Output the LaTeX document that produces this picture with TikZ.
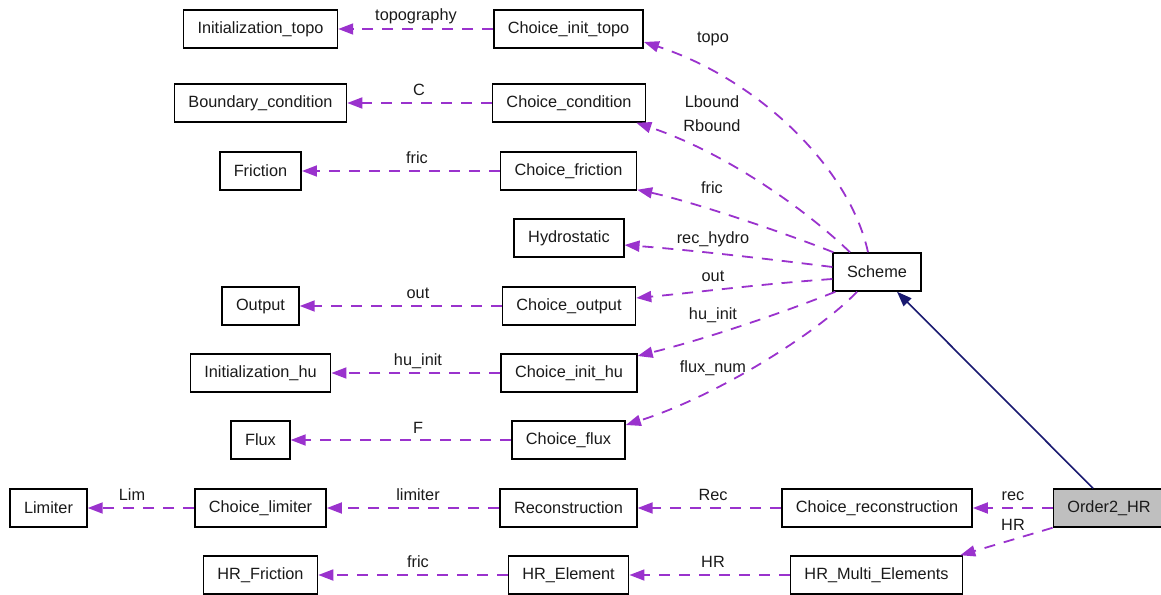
\documentclass[tikz,border=0pt]{standalone}
\usepackage{fontspec}
\setmainfont{Liberation Sans}
\usetikzlibrary{arrows.meta}
\definecolor{usecol}{HTML}{9A32CD}
\definecolor{inhcol}{HTML}{191970}
\definecolor{boxgray}{HTML}{BFBFBF}
\definecolor{txt}{HTML}{1A1A1A}
\tikzset{
  cls/.style={draw=black, line width=1.5pt, fill=white, text=txt, minimum height=38pt, inner xsep=14pt, inner ysep=0pt,
    font=\fontsize{16.3}{19}\selectfont},
  clsmain/.style={cls, fill=boxgray},
  lbl/.style={inner sep=0pt, anchor=base, text=txt, font=\fontsize{16.3}{19}\selectfont},
  use/.style={draw=usecol, line width=1.8pt, dash pattern=on 11pt off 9pt,
    -{Triangle[length=15pt,width=11pt,fill=usecol]}},
  inh/.style={draw=inhcol, line width=1.6pt, -{Triangle[length=15pt,width=11pt,fill=inhcol]}},
}
\begin{document}
\begin{tikzpicture}[x=1pt,y=-1pt]
\useasboundingbox (0,0) rectangle (1161,594);
% nodes
\node[cls] (inittopo) at (260.5,29) {Initialization\_topo};
\node[cls] (cinittopo) at (568.5,29) {Choice\_init\_topo};
\node[cls] (boundary) at (260.5,103) {Boundary\_condition};
\node[cls] (ccond) at (569,103) {Choice\_condition};
\node[cls] (friction) at (260.5,171) {Friction};
\node[cls] (cfric) at (568.5,171) {Choice\_friction};
\node[cls] (hydro) at (569,238) {Hydrostatic};
\node[cls] (scheme) at (877,272) {Scheme};
\node[cls] (output) at (260.5,306) {Output};
\node[cls] (coutput) at (569,306) {Choice\_output};
\node[cls] (inithu) at (260.5,373) {Initialization\_hu};
\node[cls] (cinithu) at (569,373) {Choice\_init\_hu};
\node[cls] (flux) at (260.5,440) {Flux};
\node[cls] (cflux) at (568.5,440) {Choice\_flux};
\node[cls] (limiter) at (48.5,508) {Limiter};
\node[cls] (climiter) at (260.5,508) {Choice\_limiter};
\node[cls] (recon) at (568.5,508) {Reconstruction};
\node[cls] (crecon) at (877,508) {Choice\_reconstruction};
\node[clsmain] (order2) at (1109,508) {Order2\_HR};
\node[cls] (hrfric) at (260.5,575) {HR\_Friction};
\node[cls] (hrelem) at (568.5,575) {HR\_Element};
\node[cls] (hrmulti) at (876.5,575) {HR\_Multi\_Elements};

% straight usage edges
\draw[use] (cinittopo) -- (inittopo);
\draw[use] (ccond) -- (boundary);
\draw[use] (cfric) -- (friction);
\draw[use] (coutput) -- (output);
\draw[use] (cinithu) -- (inithu);
\draw[use] (cflux) -- (flux);
\draw[use] (climiter) -- (limiter);
\draw[use] (recon) -- (climiter);
\draw[use] (crecon) -- (recon);
\draw[use] (order2) -- (crecon);
\draw[use] (hrelem) -- (hrfric);
\draw[use] (hrmulti) -- (hrelem);
\draw[use] (order2.south west) -- ([xshift=-3pt]hrmulti.north east);

% curved edges from Scheme
\draw[use] ([xshift=-9pt]scheme.north) .. controls +(-18,-83) and +(116,38) .. ([yshift=-13pt]cinittopo.east);
\draw[use] ([xshift=-27pt]scheme.north) .. controls +(-50,-48) and +(84,28) .. ([xshift=-10pt]ccond.south east);
\draw[use] ([xshift=1pt]scheme.north west) .. controls +(-53,-21) and +(52,11) .. ([yshift=1pt]cfric.south east);
\draw[use] ([yshift=5pt]scheme.west) .. controls +(-72,-9) and +(65,5) .. ([yshift=-7pt]hydro.east);
\draw[use] ([yshift=-7pt]scheme.west) .. controls +(-72,5) and +(64,-6) .. ([yshift=8pt]coutput.east);
\draw[use] ([xshift=3pt]scheme.south west) .. controls +(-35,14) and +(83,-21) .. ([yshift=17pt]cinithu.east);
\draw[use] ([xshift=-20pt]scheme.south) .. controls +(-37,39) and +(94,-30) .. ([yshift=15pt]cflux.east);

% inheritance
\draw[inh] ([xshift=-16pt]order2.north) -- ([xshift=20pt]scheme.south);

% labels
\node[lbl] (l1) at (416,21) {topography};
\node[lbl] (l2) at (419,95) {C};
\node[lbl] (l3) at (417,163) {fric};
\node[lbl] (l4) at (418,298) {out};
\node[lbl] (l5) at (418,365) {hu\_init};
\node[lbl] (l6) at (418,433) {F};
\node[lbl] (l7) at (132,500) {Lim};
\node[lbl] (l8) at (418,500) {limiter};
\node[lbl] (l9) at (418,567) {fric};
\node[lbl] (l10) at (713,500) {Rec};
\node[lbl] (l11) at (713,567) {HR};
\node[lbl] (l12) at (1013,500) {rec};
\node[lbl] (l13) at (1013,530) {HR};
\node[lbl] (l14) at (713,43) {topo};
\node[lbl] (l15) at (712,107) {Lbound};
\node[lbl] (l16) at (712,131) {Rbound};
\node[lbl] (l17) at (712,193) {fric};
\node[lbl] (l18) at (713,243) {rec\_hydro};
\node[lbl] (l19) at (713,281) {out};
\node[lbl] (l20) at (713,319) {hu\_init};
\node[lbl] (l21) at (713,372) {flux\_num};
\end{tikzpicture}
\end{document}
